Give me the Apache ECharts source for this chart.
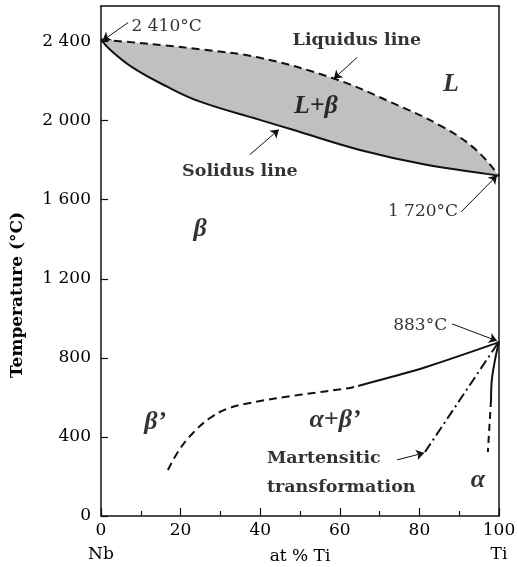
<!DOCTYPE html>
<html><head><meta charset="utf-8">
<script src="https://cdn.jsdelivr.net/npm/echarts@6/dist/echarts.min.js"></script>
<style>html,body{margin:0;padding:0;background:#fff}#c{width:518px;height:567px}</style>
</head><body><div id="c"></div>
<script>
// ---- data ----
const liquidusX = [0, 8, 16, 24.9, 39.7, 58.5, 73.1, 85.7, 94.2, 100];
const liquidusT = [2410, 2396, 2381, 2361, 2319, 2213, 2091, 1970, 1853, 1720];
const solidusX = [0, 2.3, 8, 16.6, 24.9, 39.7, 48, 64.8, 81.7, 98.2, 100];
const solidusT = [2410, 2359, 2268, 2172, 2096, 2005, 1955, 1853, 1777, 1727, 1720];
const betaPrimeX = [16.8, 19.8, 23.1, 27.4, 31.7, 37.4, 50, 62.6, 64.6];
const betaPrimeT = [233, 339, 420, 496, 542, 572, 613, 648, 658];
const alphaBetaX = [64.6, 73.1, 81.7, 99.5, 100];
const alphaBetaT = [658, 704, 754, 876, 883];
const martX = [81.4, 100];
const martT = [324, 883];
const alphaSolidX = [100, 99, 98.2, 98];
const alphaSolidT = [883, 790, 689, 587];
const alphaDashX = [98, 97.2];
const alphaDashT = [587, 324];

const xTicks = [0, 20, 40, 60, 80, 100];
const yTicks = [0, 400, 800, 1200, 1600, 2000, 2400];

const noteText = ['2 410°C', '1 720°C', '883°C'];
const noteX = [16.5, 80.9, 80.2];
const noteT = [2476, 1539, 962];

const boldText = ['Liquidus line', 'Solidus line'];
const boldX = [64.3, 34.9];
const boldT = [2405, 1742];

const martText = 'Martensitic\ntransformation';
const martLabelX = 41.7;
const martLabelT = 220;

const phaseText = ['L', 'L+β', 'β', 'β’', 'α+β’', 'α'];
const phaseX = [87.9, 54, 24.9, 13.6, 58.8, 94.7];
const phaseT = [2182, 2071, 1448, 476, 486, 182];

const arrowFrom = [[6.8, 2496], [64.3, 2319], [37.4, 1828], [90.5, 1539], [88.2, 972], [74.4, 284]];
const arrowTo = [[0.4, 2405], [58.5, 2212], [44.7, 1955], [99.5, 1722], [99.5, 886], [81.2, 319]];

// ---- chart ----
const F = 'DejaVu Serif';
const INK = '#000';
const pairs = (xs, ys) => xs.map((x, i) => [x, ys[i]]);
const fmtY = v => v >= 1000 ? Math.floor(v / 1000) + ' ' + String(v % 1000).padStart(3, '0') : String(v);

const chart = echarts.init(document.getElementById('c'));
const lineBase = { type: 'line', showSymbol: false, symbol: 'none', silent: true, animation: false, xAxisIndex: 0, yAxisIndex: 0 };

chart.setOption({
  animation: false,
  backgroundColor: '#fff',
  grid: { left: 101, right: 19, top: 6, bottom: 51, show: false, containLabel: false, outerBoundsMode: 'none' },
  xAxis: [{
    type: 'value', min: 0, max: 100, interval: 20, z: 10,
    axisLine: { show: true, lineStyle: { color: '#111', width: 1.5 } },
    axisTick: { show: true, inside: true, length: 8, lineStyle: { color: '#111', width: 1.2 } },
    minorTick: { show: true, splitNumber: 2, length: 5, lineStyle: { color: '#111', width: 1.2 } },
    splitLine: { show: false },
    axisLabel: {
      margin: 3, color: INK, fontFamily: F, fontSize: 17, customValues: xTicks,
      formatter: v => v === 0 ? '0\n{s|Nb}' : (v === 100 ? '100\n{s|Ti}' : String(v)),
      lineHeight: 24,
      rich: { s: { fontFamily: F, fontSize: 17, color: INK, lineHeight: 24 } }
    },
    name: 'at % Ti', nameLocation: 'middle', nameGap: 32, nameMoveOverlap: false,
    nameTextStyle: { fontFamily: F, fontSize: 17, color: INK }
  }, {
    type: 'value', min: 0, max: 100, position: 'top', z: 10,
    axisLine: { show: true, onZero: false, lineStyle: { color: '#111', width: 1.5 } },
    axisTick: { show: false }, axisLabel: { show: false }, splitLine: { show: false }
  }],
  yAxis: [{
    type: 'value', min: 0, max: 2580, interval: 400, z: 10,
    axisLine: { show: true, lineStyle: { color: '#111', width: 1.5 } },
    axisTick: { show: true, inside: true, length: 7, customValues: yTicks, lineStyle: { color: '#111', width: 1.2 } },
    splitLine: { show: false },
    axisLabel: { margin: 10, color: INK, fontFamily: F, fontSize: 17, customValues: yTicks, formatter: fmtY }
  }, {
    type: 'value', min: 0, max: 2580, position: 'right', z: 10,
    axisLine: { show: true, onZero: false, lineStyle: { color: '#111', width: 1.5 } },
    axisTick: { show: false }, axisLabel: { show: false }, splitLine: { show: false }
  }],
  graphic: [{
    type: 'text', x: 18, y: 295, rotation: Math.PI / 2, z: 20,
    style: { text: 'Temperature (°C)', fontFamily: F, fontWeight: 'bold', fontSize: 17, fill: INK, align: 'center', verticalAlign: 'middle' }
  }],
  series: [
    Object.assign({}, lineBase, {
      data: pairs(liquidusX, liquidusT), smooth: 0.4, z: 2,
      lineStyle: { color: '#111', width: 2, type: [8, 5] },
      areaStyle: { color: '#c0c0c0', opacity: 1, origin: 'start' }
    }),
    Object.assign({}, lineBase, {
      data: pairs(solidusX, solidusT), smooth: 0.4, z: 3,
      lineStyle: { color: '#111', width: 2 },
      areaStyle: { color: '#ffffff', opacity: 1, origin: 'start' }
    }),
    Object.assign({}, lineBase, {
      data: pairs(betaPrimeX, betaPrimeT), smooth: 0.4, z: 4,
      lineStyle: { color: '#111', width: 2, type: [8, 5] }
    }),
    Object.assign({}, lineBase, {
      data: pairs(alphaBetaX, alphaBetaT), smooth: 0.4, z: 4,
      lineStyle: { color: '#111', width: 2 }
    }),
    Object.assign({}, lineBase, {
      data: pairs(martX, martT), z: 4,
      lineStyle: { color: '#111', width: 2, type: [10, 4, 2, 4] }
    }),
    Object.assign({}, lineBase, {
      data: pairs(alphaSolidX, alphaSolidT), smooth: 0.4, z: 4,
      lineStyle: { color: '#111', width: 2 }
    }),
    Object.assign({}, lineBase, {
      data: pairs(alphaDashX, alphaDashT), z: 4,
      lineStyle: { color: '#111', width: 2, type: [7, 5] },
      markLine: {
        silent: true, symbol: ['none', 'arrow'], symbolSize: 8, animation: false,
        lineStyle: { color: '#111', width: 1, type: 'solid' },
        label: { show: false },
        data: arrowFrom.map((f, i) => [{ coord: f }, { coord: arrowTo[i] }])
      }
    }),
    {
      type: 'scatter', symbolSize: 0, silent: true, z: 12,
      data: noteText.map((t, i) => [noteX[i], noteT[i], t]),
      label: { show: true, position: 'inside', formatter: p => p.value[2], color: INK, fontFamily: F, fontSize: 17 }
    },
    {
      type: 'scatter', symbolSize: 0, silent: true, z: 12,
      data: boldText.map((t, i) => [boldX[i], boldT[i], t]),
      label: { show: true, position: 'inside', formatter: p => p.value[2], color: INK, fontFamily: F, fontWeight: 'bold', fontSize: 17.5 }
    },
    {
      type: 'scatter', symbolSize: 0, silent: true, z: 12,
      data: [[martLabelX, martLabelT, martText]],
      label: { show: true, position: 'right', distance: 0, align: 'left', formatter: p => p.value[2], color: INK, fontFamily: F, fontWeight: 'bold', fontSize: 17.5, lineHeight: 29 }
    },
    {
      type: 'scatter', symbolSize: 0, silent: true, z: 12,
      data: phaseText.map((t, i) => [phaseX[i], phaseT[i], t]),
      label: { show: true, position: 'inside', formatter: p => p.value[2], color: INK, fontFamily: 'Liberation Serif', fontWeight: 'bold', fontStyle: 'italic', fontSize: 26 }
    }
  ]
});
</script></body></html>
